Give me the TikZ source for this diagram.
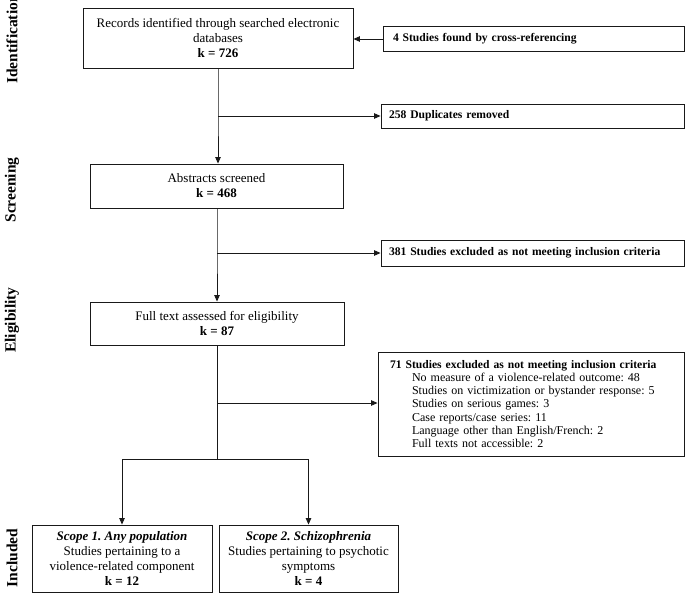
\documentclass[tikz,border=0pt]{standalone}
\usepackage{fontspec}
\setmainfont{Liberation Serif}
\usetikzlibrary{arrows.meta}
\frenchspacing
\begin{document}
\begin{tikzpicture}[x=1pt,y=-1pt,
  box/.style={draw=black!90, line width=0.9pt, inner sep=0pt, align=center,
    font=\fontsize{13}{15}\selectfont},
  sidebox/.style={draw=black!90, line width=0.9pt, inner ysep=0pt, align=left,
    font=\fontsize{11.6}{13}\selectfont\bfseries},
  phase/.style={rotate=90, font=\fontsize{15.5}{17}\selectfont\bfseries, inner sep=0pt},
  conn/.style={draw=black!90, line width=0.9pt},
  arr/.style={conn, -{Triangle[length=6.5pt,width=5.5pt]}}
]
\useasboundingbox (0,0) rectangle (685,594);

% phase labels
\node[phase] (pId) at (12,39) {Identification};
\node[phase] (pSc) at (12,190) {Screening};
\node[phase] (pEl) at (12,320) {Eligibility};
\node[phase] (pIn) at (12,558) {Included};

% main column
\node[box, minimum width=270pt, minimum height=60pt] (rec) at (218,38)
  {Records identified through searched electronic\\databases\\\textbf{k = 726}};
\node[box, minimum width=253pt, minimum height=44pt] (abs) at (216.5,186)
  {Abstracts screened\\\textbf{k = 468}};
\node[box, minimum width=254pt, minimum height=43pt] (full) at (217,323.5)
  {Full text assessed for eligibility\\\textbf{k = 87}};

% side boxes
\node[sidebox, inner xsep=10pt, text width=281pt, minimum height=25pt] (cross) at (533.5,39)
  {4 Studies found by cross-referencing};
\node[sidebox, inner xsep=8pt, text width=287pt, minimum height=24pt] (dup) at (532.5,116)
  {258 Duplicates removed};
\node[sidebox, inner xsep=8pt, text width=287pt, minimum height=26pt] (ex1) at (532.5,253)
  {381 Studies excluded as not meeting inclusion criteria};
\node[sidebox, font=\fontsize{12}{13.1}\selectfont, inner xsep=12pt, text width=282pt, minimum height=104pt] (ex2) at (531,404)
  {{\fontsize{11.6}{13.1}\selectfont\bfseries 71 Studies excluded as not meeting inclusion criteria}\\
   \hspace*{22pt}No measure of a violence-related outcome: 48\\
   \hspace*{22pt}Studies on victimization or bystander response: 5\\
   \hspace*{22pt}Studies on serious games: 3\\
   \hspace*{22pt}Case reports/case series: 11\\
   \hspace*{22pt}Language other than English/French: 2\\
   \hspace*{22pt}Full texts not accessible: 2};

% included boxes
\node[box, minimum width=180pt, minimum height=67pt] (sc1) at (122,558.5)
  {\textbf{\textit{Scope 1. Any population}}\\Studies pertaining to a\\violence-related component\\\textbf{k = 12}};
\node[box, minimum width=179pt, minimum height=67pt] (sc2) at (308.5,558.5)
  {\textbf{\textit{Scope 2. Schizophrenia}}\\Studies pertaining to psychotic\\symptoms\\\textbf{k = 4}};

% junction points
\coordinate (j1) at (218,116);
\coordinate (j2) at (217,253);
\coordinate (j3) at (217,403);
\coordinate (j4) at (217,459);
\coordinate (jl) at (122,459);
\coordinate (jr) at (308.5,459);

% connectors
\draw[arr] (cross.west) -- (cross.west -| rec.east);
\draw[arr] (rec.south -| j1) -- (j1) -- (j1 |- abs.north);
\draw[arr] (j1) -- (j1 -| dup.west);
\draw[arr] (abs.south -| j2) -- (j2) -- (j2 |- full.north);
\draw[arr] (j2) -- (j2 -| ex1.west);
\draw[conn] (full.south -| j3) -- (j4);
\draw[arr] (j3) -- (j3 -| ex2.west);
\draw[conn] (jl) -- (jr);
\draw[arr] (jl) -- (sc1.north);
\draw[arr] (jr) -- (sc2.north);
\end{tikzpicture}
\end{document}
